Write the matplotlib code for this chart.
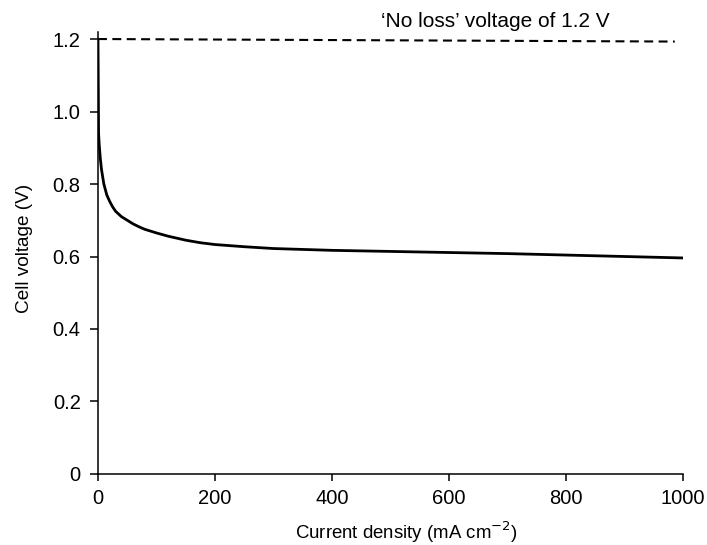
import numpy as np
import matplotlib.pyplot as plt

plt.rcParams['font.family'] = ['Liberation Sans', 'DejaVu Sans']

# Data
current = [0, 1, 2, 4, 6, 10, 15, 20, 25, 30, 40, 50, 60, 70, 80, 100, 120,
           150, 175, 200, 250, 300, 400, 500, 600, 700, 800, 900, 1000]   # mA cm-2
voltage = [1.2, 0.94, 0.91, 0.87, 0.84, 0.80, 0.77, 0.752, 0.737, 0.725,
           0.71, 0.70, 0.69, 0.682, 0.675, 0.665, 0.656, 0.645, 0.638,
           0.633, 0.627, 0.622, 0.617, 0.614, 0.611, 0.608, 0.604, 0.600,
           0.596]                                                          # V
no_loss_x = [0, 986]
no_loss_v = [1.2, 1.193]

x_ticks = [0, 200, 400, 600, 800, 1000]
y_ticks = [0, 0.2, 0.4, 0.6, 0.8, 1.0, 1.2]
y_tick_labels = ['0', '0.2', '0.4', '0.6', '0.8', '1.0', '1.2']

fig = plt.figure(figsize=(7.07, 5.45), dpi=100)
ax = fig.add_axes([0.1386, 0.1303, 0.8274, 0.8114])

ax.plot(current, voltage, color='black', lw=2.0, solid_capstyle='butt',
        solid_joinstyle='round')
ax.plot(no_loss_x, no_loss_v, color='black', lw=1.5, linestyle=(0, (4.3, 2.6)))
ax.text(679, 1.247, '\u2018No loss\u2019 voltage of 1.2 V', ha='center', va='center',
        fontsize=15, clip_on=False)

ax.set_xlim(0, 1000)
ax.set_ylim(0, 1.22)
ax.set_xticks(x_ticks)
ax.set_yticks(y_ticks)
ax.set_yticklabels(y_tick_labels)

for side in ['top', 'right']:
    ax.spines[side].set_visible(False)
for side in ['left', 'bottom']:
    ax.spines[side].set_linewidth(1.1)

ax.tick_params(axis='y', direction='out', length=5.5, width=1.1, labelsize=14.5, pad=7)
ax.tick_params(axis='x', direction='out', length=5, width=1.1, labelsize=14.5, pad=6)

ax.set_xlabel('Current density (mA cm$^{-2}$)', fontsize=13.4)
ax.xaxis.set_label_coords(0.527, -0.102)
ax.set_ylabel('Cell voltage (V)', fontsize=13.7)
ax.yaxis.set_label_coords(-0.111, 0.511)

fig.savefig('out.png', dpi=100)
